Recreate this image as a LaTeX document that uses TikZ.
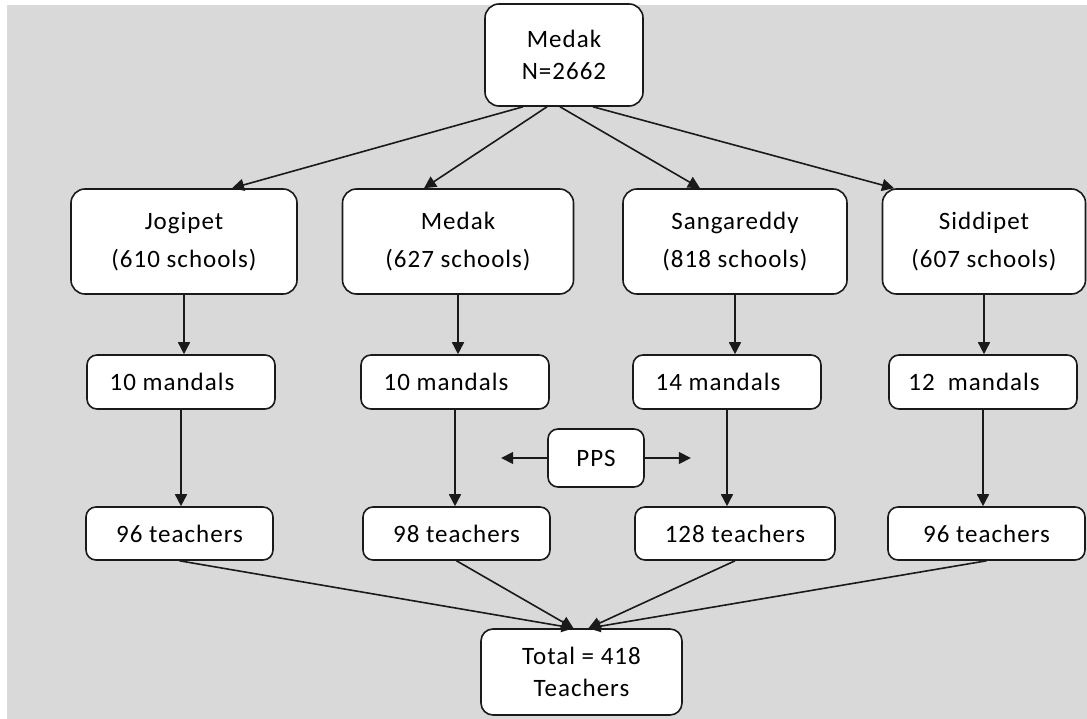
\documentclass[tikz,border=0pt]{standalone}
\usepackage{fontspec}
\setmainfont{Carlito}[LetterSpace=4]
\usetikzlibrary{arrows.meta}
\definecolor{bggray}{HTML}{D9D9D9}
\definecolor{boxline}{HTML}{1A1A1A}

\begin{document}
\begin{tikzpicture}[x=1pt, y=-1pt, font=\fontsize{25}{32}\selectfont,
    box/.style={draw=boxline, line width=1.6pt, fill=white, rounded corners=14pt,
      align=center, inner sep=0pt},
    district/.style={box, minimum height=105pt, font=\fontsize{25}{38}\selectfont},
    mandal/.style={box, rounded corners=10pt, minimum width=188pt, minimum height=54pt,
      execute at end node=\hspace*{18pt}},
    teach/.style={box, rounded corners=10pt, minimum height=53pt},
    arr/.style={boxline, line width=1.6pt, -{Triangle[length=12pt, width=12pt]}}]
    \useasboundingbox (0,0) rectangle (1087,719);
    \fill[bggray] (7,5) rectangle (1087,719);
    % top level
    \node[box, minimum width=158pt, minimum height=102pt] (top) at (564,55) {Medak\\N=2662};
    % divisions
    \node[district, minimum width=226pt] (jog) at (184,241.5) {Jogipet\\(610 schools)};
    \node[district, minimum width=231pt] (med) at (458,241.5) {Medak\\(627 schools)};
    \node[district, minimum width=224pt] (san) at (735,241.5) {Sangareddy\\(818 schools)};
    \node[district, minimum width=203pt] (sid) at (984,241.5) {Siddipet\\(607 schools)};
    % mandals
    \node[mandal] (jogm) at (181,382) {10 mandals};
    \node[mandal] (medm) at (455,382) {10 mandals};
    \node[mandal] (sanm) at (727,382) {14 mandals};
    \node[mandal] (sidm) at (983,382) {12~ mandals};
    % teachers
    \node[teach, minimum width=187pt] (jogt) at (179.5,533.5) {96 teachers};
    \node[teach, minimum width=187pt] (medt) at (456.5,533.5) {98 teachers};
    \node[teach, minimum width=200pt] (sant) at (735,533.5) {128 teachers};
    \node[teach, minimum width=197pt] (sidt) at (986.5,533.5) {96 teachers};
    \node[box, rounded corners=10pt, minimum width=96pt, minimum height=58pt] (pps) at (596,458) {PPS};
    \node[box, rounded corners=12pt, minimum width=201pt, minimum height=86pt] (tot) at (581.5,672) {Total = 418\\Teachers};
    % connectors
    \draw[arr] ([xshift=-41pt]top.south) -- ([xshift=48pt]jog.north);
    \draw[arr] ([xshift=-17pt]top.south) -- ([xshift=-34pt]med.north);
    \draw[arr] ([xshift=-4pt]top.south) -- ([xshift=-35pt]san.north);
    \draw[arr] ([xshift=29pt]top.south) -- ([xshift=-90pt]sid.north);
    \foreach \a/\b/\c in {jog/jogm/jogt, med/medm/medt, san/sanm/sant, sid/sidm/sidt} {
      \draw[arr] (\a.south) -- (\a.south |- \b.north);
      \draw[arr] (\b.south) -- (\b.south |- \c.north);
    }
    \draw[arr] (jogt.south) -- ([xshift=-8pt]tot.north);
    \draw[arr] (medt.south) -- ([xshift=-8pt]tot.north);
    \draw[arr] (sant.south) -- ([xshift=7pt]tot.north);
    \draw[arr] (sidt.south) -- ([xshift=7pt]tot.north);
    \draw[arr] (pps.west) -- ++(-46,0);
    \draw[arr] (pps.east) -- ++(46,0);
\end{tikzpicture}
\end{document}
